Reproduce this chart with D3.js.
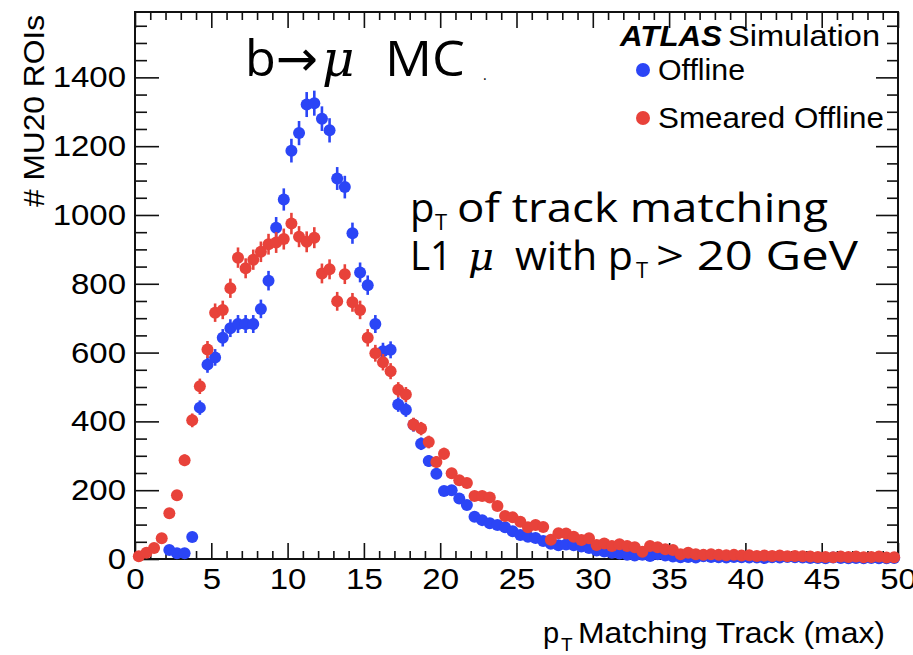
<!DOCTYPE html>
<html>
<head>
<meta charset="utf-8">
<script src="https://cdn.jsdelivr.net/npm/d3@7"></script>
<style>
  html, body { margin: 0; padding: 0; background: #fff; }
  svg { display: block; }
  text { white-space: pre; }
</style>
</head>
<body>
<svg id="chart" width="913" height="655"></svg>
<script>
// ---------------- DATA ----------------
const binCenters = [
  0.25,0.75,1.25,1.75,2.25,2.75,3.25,3.75,4.25,4.75,5.25,5.75,6.25,6.75,7.25,7.75,8.25,8.75,9.25,9.75,
  10.25,10.75,11.25,11.75,12.25,12.75,13.25,13.75,14.25,14.75,15.25,15.75,16.25,16.75,17.25,17.75,18.25,18.75,19.25,19.75,
  20.25,20.75,21.25,21.75,22.25,22.75,23.25,23.75,24.25,24.75,25.25,25.75,26.25,26.75,27.25,27.75,28.25,28.75,29.25,29.75,
  30.25,30.75,31.25,31.75,32.25,32.75,33.25,33.75,34.25,34.75,35.25,35.75,36.25,36.75,37.25,37.75,38.25,38.75,39.25,39.75,
  40.25,40.75,41.25,41.75,42.25,42.75,43.25,43.75,44.25,44.75,45.25,45.75,46.25,46.75,47.25,47.75,48.25,48.75,49.25,49.75
];
const offline = [
  0,0,0,0,26,17,17,64,440,565,586,643,671,683,683,683,727,809,963,1045,
  1187,1238,1321,1325,1280,1246,1106,1081,947,833,796,683,604,608,449,434,390,335,285,248,
  198,200,176,157,123,113,104,99,92,81,70,65,61,52,44,40,42,40,36,32,
  25,22,18,16,12,10,12,9,14,10,7,5,6,4,8,6,5,4,6,5,
  4,4,3,5,4,6,5,4,3,3,2,4,3,2,3,2,3,2,2,3
];
const smeared = [
  8,18,32,60,133,185,287,403,502,609,716,724,787,876,845,870,893,915,920,930,
  975,937,922,934,830,842,749,828,746,724,643,598,572,546,492,478,391,379,340,282,
  306,249,229,221,183,183,179,154,125,121,108,92,99,93,56,75,74,65,55,60,
  41,45,38,43,38,34,21,38,34,28,26,14,18,14,12,14,12,11,12,10,
  11,9,10,9,10,8,9,8,7,6,6,5,7,6,7,5,6,7,4,5
];
const xMajorTicks = [0,5,10,15,20,25,30,35,40,45,50];
const yMajorTicks = [0,200,400,600,800,1000,1200,1400];
const seriesNames = ["Offline", "Smeared Offline"];
const seriesColors = ["#2b45f6", "#e8423a"];

// ---------------- LAYOUT ----------------
const svg = d3.select("#chart");
const L = 135, R = 898, T = 12, B = 559;
const x = d3.scaleLinear().domain([0, 50]).range([L, R]);
const y = d3.scaleLinear().domain([0, 1590]).range([B, T]);
const rootFont = "'Liberation Sans', Arial, Helvetica, sans-serif";
const annFont = "'Open Sans', 'DejaVu Sans', sans-serif";
const muFont = "'DejaVu Serif', serif";
const SX = 1.1; // horizontal stretch of ROOT-style labels

const xMinor = d3.range(0, 50.001, 1).filter(v => v % 5 !== 0);
const yMinor = d3.range(0, 1590, 50).filter(v => v % 200 !== 0);

function styleAxis(g) {
  g.select(".domain").remove();
  g.selectAll("line").attr("stroke", "#111").attr("stroke-width", 1.6);
  g.selectAll("text").attr("font-family", rootFont).attr("font-size", 30).attr("fill", "#000")
    .each(function () {
      const t = d3.select(this);
      const x0 = +t.attr("x") || 0;
      t.attr("x", x0 / SX).attr("transform", `scale(${SX},1)`);
    });
}

// bottom
svg.append("g").attr("transform", `translate(0,${B})`)
  .call(d3.axisBottom(x).tickValues(xMajorTicks).tickSize(-16).tickPadding(9).tickFormat(d3.format("d")))
  .call(styleAxis);
svg.append("g").attr("transform", `translate(0,${B})`)
  .call(d3.axisBottom(x).tickValues(xMinor).tickSize(-8).tickFormat(""))
  .call(styleAxis);
// top
svg.append("g").attr("transform", `translate(0,${T})`)
  .call(d3.axisTop(x).tickValues(xMajorTicks).tickSize(-16).tickFormat(""))
  .call(styleAxis);
svg.append("g").attr("transform", `translate(0,${T})`)
  .call(d3.axisTop(x).tickValues(xMinor).tickSize(-8).tickFormat(""))
  .call(styleAxis);
// left
svg.append("g").attr("transform", `translate(${L},0)`)
  .call(d3.axisLeft(y).tickValues(yMajorTicks).tickSize(-24).tickPadding(9).tickFormat(d3.format("d")))
  .call(styleAxis);
svg.append("g").attr("transform", `translate(${L},0)`)
  .call(d3.axisLeft(y).tickValues(yMinor).tickSize(-12).tickFormat(""))
  .call(styleAxis);
// right
svg.append("g").attr("transform", `translate(${R},0)`)
  .call(d3.axisRight(y).tickValues(yMajorTicks).tickSize(-22).tickFormat(""))
  .call(styleAxis);
svg.append("g").attr("transform", `translate(${R},0)`)
  .call(d3.axisRight(y).tickValues(yMinor).tickSize(-11).tickFormat(""))
  .call(styleAxis);

// frame
svg.append("rect").attr("x", L).attr("y", T).attr("width", R - L).attr("height", B - T)
  .attr("fill", "none").attr("stroke", "#111").attr("stroke-width", 2);

// ---------------- SERIES ----------------
const seriesData = [offline, smeared];
seriesData.forEach((vals, si) => {
  const pts = binCenters.map((c, i) => ({ c, v: vals[i] })).filter(d => d.v > 0);
  const g = svg.append("g");
  g.selectAll("line.err").data(pts).enter().append("line")
    .attr("x1", d => x(d.c)).attr("x2", d => x(d.c))
    .attr("y1", d => y(Math.max(0, d.v - Math.sqrt(d.v))))
    .attr("y2", d => y(d.v + Math.sqrt(d.v)))
    .attr("stroke", seriesColors[si]).attr("stroke-width", 2.6);
  g.selectAll("circle").data(pts).enter().append("circle")
    .attr("cx", d => x(d.c)).attr("cy", d => y(d.v)).attr("r", 6)
    .attr("fill", seriesColors[si]);
});

// helpers
function txt(str, xx, yy, size, opts = {}) {
  const t = svg.append("text").attr("x", xx).attr("y", yy)
    .attr("font-family", opts.family || rootFont).attr("font-size", size).attr("fill", "#000")
    .text(str);
  if (opts.width) t.attr("textLength", opts.width).attr("lengthAdjust", "spacingAndGlyphs");
  if (opts.weight) t.attr("font-weight", opts.weight);
  if (opts.italic) t.attr("font-style", "italic");
  return t;
}
// one text element built from positioned pieces
function block(family, size, pieces) {
  const t = svg.append("text").attr("font-family", family).attr("font-size", size).attr("fill", "#000");
  pieces.forEach(p => {
    const s = t.append("tspan").attr("x", p.x).attr("y", p.y).text(p.s);
    if (p.size) s.attr("font-size", p.size);
    if (p.family) s.attr("font-family", p.family);
    if (p.italic) s.attr("font-style", "italic");
    if (p.w) s.attr("textLength", p.w).attr("lengthAdjust", "spacingAndGlyphs");
  });
  return t;
}

// ---------------- AXIS TITLES ----------------
block(rootFont, 29, [
  { s: "p", x: 543, y: 643 },
  { s: "T", x: 561, y: 651, size: 19 },
  { s: "Matching Track (max)", x: 578, y: 643, w: 307 }
]);

svg.append("text").attr("transform", "translate(44,15) rotate(-90)").attr("text-anchor", "end")
  .attr("font-family", rootFont).attr("font-size", 30).attr("fill", "#000")
  .attr("textLength", 192).attr("lengthAdjust", "spacingAndGlyphs")
  .text("# MU20 ROIs");

// ---------------- LEGEND ----------------
txt("ATLAS", 620, 46, 29, { weight: "bold", italic: true, width: 102 });
txt("Simulation", 728, 46, 29, { width: 152 });
const legY = [70, 118];
const legW = [87, 226];
seriesNames.forEach((n, i) => {
  svg.append("circle").attr("cx", 643).attr("cy", legY[i]).attr("r", 7).attr("fill", seriesColors[i]);
  txt(n, 658, legY[i] + 10, 30, { width: legW[i] });
});

// ---------------- ANNOTATIONS ----------------
block(annFont, 50, [
  { s: "b→", x: 245, y: 76, w: 73 },
  { s: "μ", x: 322, y: 76, family: muFont, italic: true },
  { s: "MC", x: 385, y: 76, w: 80 },
  { s: ".", x: 483, y: 80, size: 14 }
]);

block(annFont, 40, [
  { s: "p", x: 410, y: 222 },
  { s: "T", x: 435, y: 230, size: 22 },
  { s: "of track matching", x: 457, y: 222, w: 371 },
  { s: "L1", x: 410, y: 270, w: 42 },
  { s: "μ", x: 468, y: 270, family: muFont, italic: true },
  { s: "with p", x: 515, y: 270, w: 118 },
  { s: "T", x: 636, y: 278, size: 22 },
  { s: "> 20 GeV", x: 656, y: 270, w: 202 }
]);
</script>
</body>
</html>
